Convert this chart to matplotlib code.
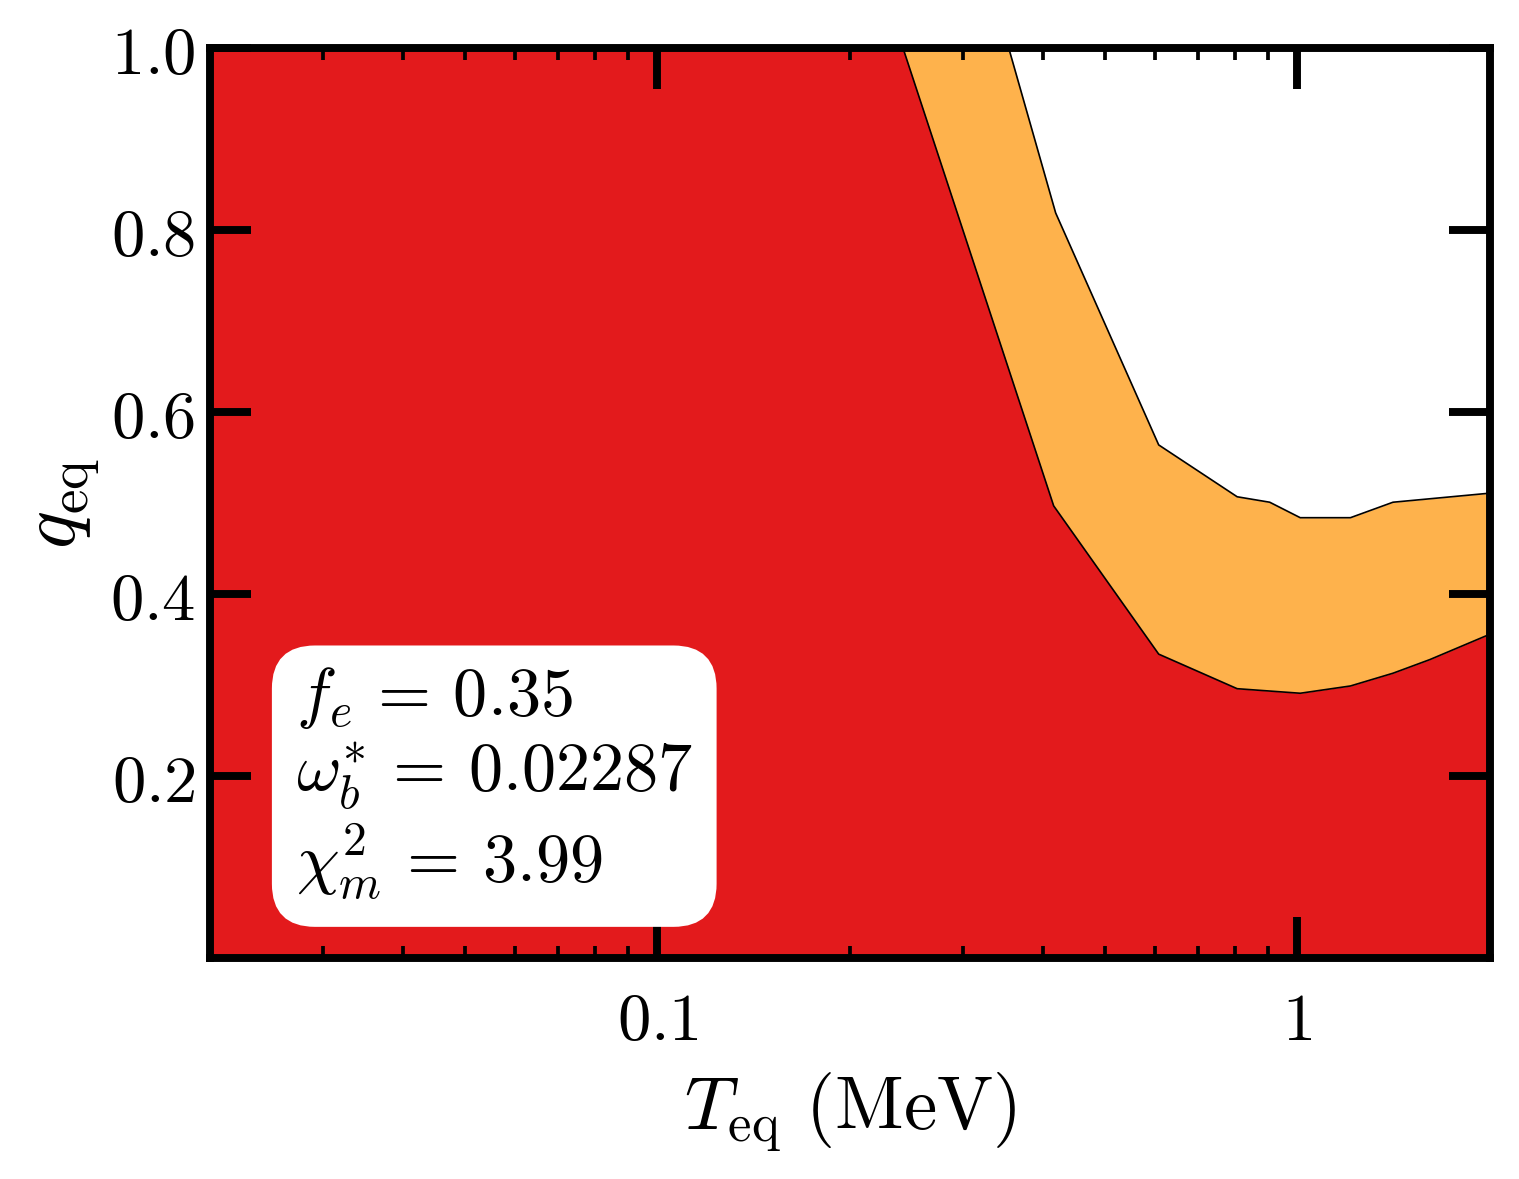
import numpy as np
import matplotlib
matplotlib.use("Agg")
import matplotlib.pyplot as plt

plt.rcParams['mathtext.fontset'] = 'cm'
plt.rcParams['font.family'] = 'serif'
plt.rcParams['font.serif'] = ['DejaVu Serif']

# boundary of the red region (lower curve), T in MeV
T_low = [0.02, 0.242, 0.416, 0.607, 0.805, 1.01, 1.21, 1.41, 1.61, 2.0]
q_low = [1.0, 1.0, 0.497, 0.334, 0.296, 0.291, 0.299, 0.313, 0.328, 0.356]

# boundary of the orange region (upper curve)
T_up = [0.02, 0.354, 0.419, 0.607, 0.805, 0.905, 1.01, 1.21, 1.41, 2.0]
q_up = [1.0, 1.0, 0.819, 0.564, 0.507, 0.501, 0.484, 0.484, 0.501, 0.511]

xticks = [0.1, 1]
xticklabels = [r'$0.1$', r'$1$']
yticks = [0.2, 0.4, 0.6, 0.8, 1.0]
yticklabels = [r'$0.2$', r'$0.4$', r'$0.6$', r'$0.8$', r'$1.0$']

info = (r'$f_e\,=\,0.35$' + '\n' + r'$\omega^{*}_{b}\,=\,0.02287$' + '\n'
        + r'$\chi^{2}_{m}\,=\,3.99$')

fig = plt.figure(figsize=(1519 / 300, 1179 / 300), dpi=300)
ax = fig.add_axes([0.1383, 0.1875, 0.981 - 0.1383, 0.959 - 0.1875])

ax.fill_between(T_up, 0, q_up, color='#feb24c', lw=0, zorder=1)
ax.fill_between(T_low, 0, q_low, color='#e31a1c', lw=0, zorder=2)
ax.plot(T_up[1:], q_up[1:], color='k', lw=0.4, zorder=3)
ax.plot(T_low[1:], q_low[1:], color='k', lw=0.4, zorder=3)

ax.set_xscale('log')
ax.set_xlim(0.02, 2.0)
ax.set_ylim(0, 1.0)
ax.set_xticks(xticks)
ax.set_xticklabels(xticklabels)
ax.set_yticks(yticks)
ax.set_yticklabels(yticklabels)
ax.xaxis.set_zorder(4)
ax.yaxis.set_zorder(4)

ax.tick_params(which='both', direction='in', top=True, right=True, labelsize=16)
ax.tick_params(which='major', length=9.8, width=1.9)
ax.tick_params(axis='x', which='major', pad=7.5)
ax.tick_params(axis='y', which='major', pad=3.5)
ax.tick_params(which='minor', length=2.8, width=0.9)
for s in ax.spines.values():
    s.set_linewidth(1.9)
    s.set_zorder(5)

ax.set_xlabel(r'$T_{\rm eq}\ ({\rm MeV})$', fontsize=18, labelpad=4)
ax.set_ylabel(r'$q_{\rm eq}$', fontsize=19, labelpad=2)

ax.text(0.067, 0.0605, info, transform=ax.transAxes, fontsize=16.4,
        ha='left', va='bottom', linespacing=1.17, zorder=6,
        bbox=dict(boxstyle='round,pad=0.32,rounding_size=0.6', fc='white', ec='white'))

fig.savefig('out.png', dpi=300)
